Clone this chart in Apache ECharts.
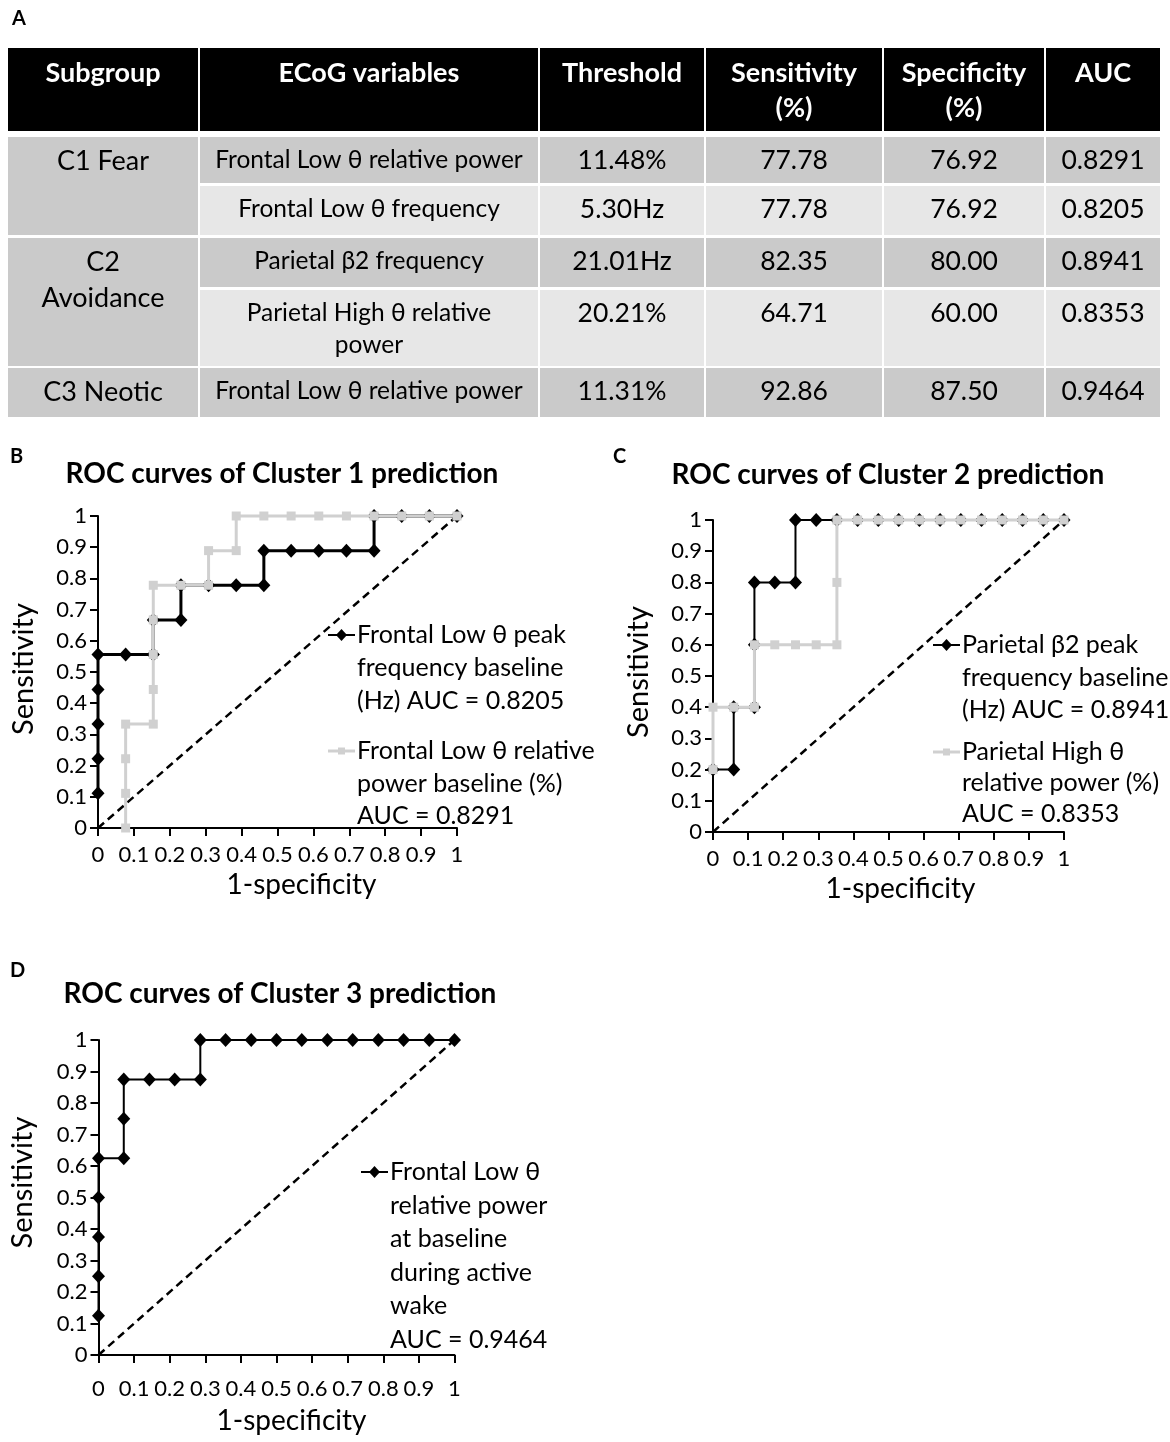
<!DOCTYPE html>
<html>
<head>
<meta charset="utf-8">
<script src="https://cdn.jsdelivr.net/npm/echarts@6/dist/echarts.min.js"></script>
<style>
  html, body { margin: 0; padding: 0; background: #fff; }
  #main { width: 1170px; height: 1442px; }
</style>
</head>
<body>
<div id="main"></div>
<script>
// table A
var tableHeader = ['Subgroup', 'ECoG variables', 'Threshold', 'Sensitivity\n(%)', 'Specificity\n(%)', 'AUC'];
var subgroups = ['C1 Fear', 'C2\nAvoidance', 'C3 Neotic'];
var subgroupSpan = [2, 2, 1];
var variables = ['Frontal Low θ relative power', 'Frontal Low θ frequency', 'Parietal β2 frequency',
                 'Parietal High θ relative\npower', 'Frontal Low θ relative power'];
var thresholds = ['11.48%', '5.30Hz', '21.01Hz', '20.21%', '11.31%'];
var sensitivity = ['77.78', '77.78', '82.35', '64.71', '92.86'];
var specificity = ['76.92', '76.92', '80.00', '60.00', '87.50'];
var aucs = ['0.8291', '0.8205', '0.8941', '0.8353', '0.9464'];

// ROC curves (x = 1-specificity, y = sensitivity)
var c1FreqX = [0, 0, 0, 0, 0, 0.077, 0.154, 0.154, 0.231, 0.231, 0.308, 0.385, 0.462, 0.462, 0.538, 0.615, 0.692, 0.769, 0.769, 0.846, 0.923, 1];
var c1FreqY = [0.111, 0.222, 0.333, 0.444, 0.556, 0.556, 0.556, 0.667, 0.667, 0.778, 0.778, 0.778, 0.778, 0.889, 0.889, 0.889, 0.889, 0.889, 1, 1, 1, 1];
var c1PowX = [0.077, 0.077, 0.077, 0.077, 0.154, 0.154, 0.154, 0.154, 0.154, 0.231, 0.308, 0.308, 0.385, 0.385, 0.462, 0.538, 0.615, 0.692, 0.769, 0.846, 0.923, 1];
var c1PowY = [0, 0.111, 0.222, 0.333, 0.333, 0.444, 0.556, 0.667, 0.778, 0.778, 0.778, 0.889, 0.889, 1, 1, 1, 1, 1, 1, 1, 1, 1];

var c2BetaX = [0, 0.059, 0.059, 0.118, 0.118, 0.118, 0.176, 0.235, 0.235, 0.294, 0.353, 0.412, 0.471, 0.529, 0.588, 0.647, 0.706, 0.765, 0.824, 0.882, 0.941, 1];
var c2BetaY = [0.2, 0.2, 0.4, 0.4, 0.6, 0.8, 0.8, 0.8, 1, 1, 1, 1, 1, 1, 1, 1, 1, 1, 1, 1, 1, 1];
var c2ThetaX = [0, 0, 0.059, 0.118, 0.118, 0.176, 0.235, 0.294, 0.353, 0.353, 0.353, 0.412, 0.471, 0.529, 0.588, 0.647, 0.706, 0.765, 0.824, 0.882, 0.941, 1];
var c2ThetaY = [0.2, 0.4, 0.4, 0.4, 0.6, 0.6, 0.6, 0.6, 0.6, 0.8, 1, 1, 1, 1, 1, 1, 1, 1, 1, 1, 1, 1];

var c3PowX = [0, 0, 0, 0, 0, 0.071, 0.071, 0.071, 0.143, 0.214, 0.286, 0.286, 0.357, 0.429, 0.5, 0.571, 0.643, 0.714, 0.786, 0.857, 0.929, 1];
var c3PowY = [0.125, 0.25, 0.375, 0.5, 0.625, 0.625, 0.75, 0.875, 0.875, 0.875, 0.875, 1, 1, 1, 1, 1, 1, 1, 1, 1, 1, 1];

var diagX = [0, 1];
var diagY = [0, 1];

var FONT = 'Lato, "Noto Sans", "DejaVu Sans", sans-serif';
var DARK = '#cacaca', LIGHT = '#e7e7e7', GREY = '#d0d0d0';

var myChart = echarts.init(document.getElementById('main'), null, {renderer: 'canvas'});

// ---- table as graphic ----
var colX = [8, 200, 540, 706, 884, 1046, 1162];
var rowTop = [137, 186, 238, 290, 368];
var rowBot = [183, 235, 287, 366, 417];
var gfx = [];

function cell(x0, x1, y0, y1, fill) {
    gfx.push({type: 'rect', shape: {x: x0, y: y0, width: x1 - x0, height: y1 - y0}, style: {fill: fill}, silent: true});
}
function txt(x, y, s, size, opt) {
    opt = opt || {};
    gfx.push({type: 'text', x: x, y: y, silent: true, style: {
        text: s, fill: opt.fill || '#000', fontSize: size, fontFamily: FONT,
        fontWeight: opt.bold ? 'bold' : 'normal', align: opt.align || 'center',
        verticalAlign: 'top', lineHeight: opt.lh || 32
    }});
}

// header
for (var c = 0; c < 6; c++) {
    cell(colX[c], colX[c + 1] - 2, 48, 131, '#000');
    txt((colX[c] + colX[c + 1] - 2) / 2, 56, tableHeader[c], 27, {bold: true, fill: '#fff', lh: 35});
}
// subgroup column
var r = 0;
subgroups.forEach(function (s, i) {
    var r1 = r + subgroupSpan[i] - 1;
    cell(colX[0], colX[1] - 2, rowTop[r], rowBot[r1], DARK);
    txt((colX[0] + colX[1] - 2) / 2, rowTop[r] + 6, s, 27, {lh: 36});
    r = r1 + 1;
});
// body rows
var bodyCols = [variables, thresholds, sensitivity, specificity, aucs];
for (var i = 0; i < variables.length; i++) {
    var fill = (i % 2 === 0) ? DARK : LIGHT;
    for (var c = 1; c < 6; c++) {
        cell(colX[c], colX[c + 1] - 2, rowTop[i], rowBot[i], fill);
        txt((colX[c] + colX[c + 1] - 2) / 2, rowTop[i] + 7, bodyCols[c - 1][i], c === 1 ? 24.5 : 26.5, {lh: 32});
    }
}

// panel letters and titles
txt(12, 3, 'A', 20, {bold: true, align: 'left'});
txt(10, 441, 'B', 20, {bold: true, align: 'left'});
txt(613, 441, 'C', 20, {bold: true, align: 'left'});
txt(10, 955, 'D', 20, {bold: true, align: 'left'});
txt(282, 458, 'ROC curves of Cluster 1 prediction', 28, {bold: true});
txt(888, 459, 'ROC curves of Cluster 2 prediction', 28, {bold: true});
txt(280, 978, 'ROC curves of Cluster 3 prediction', 28, {bold: true});

// legends
function legendItem(x, y, kind, label, lh) {
    var black = kind === 'diamond';
    gfx.push({type: 'line', silent: true, shape: {x1: x, y1: y, x2: x + 27, y2: y},
        style: {stroke: black ? '#000' : GREY, lineWidth: black ? 2 : 3}});
    if (black) {
        gfx.push({type: 'polygon', silent: true, shape: {points: [[x + 13.5, y - 6], [x + 19, y], [x + 13.5, y + 6], [x + 8, y]]}, style: {fill: '#000'}});
    } else {
        gfx.push({type: 'rect', silent: true, shape: {x: x + 10, y: y - 3.5, width: 7, height: 7}, style: {fill: GREY}});
    }
    txt(x + 29, y - lh / 2, label, 25, {align: 'left', lh: lh});
}
legendItem(328, 635, 'diamond', 'Frontal Low θ peak\nfrequency baseline\n(Hz) AUC = 0.8205', 33);
legendItem(328, 751, 'square', 'Frontal Low θ relative\npower baseline (%)\nAUC = 0.8291', 32.5);
legendItem(933, 645, 'diamond', 'Parietal β2 peak\nfrequency baseline\n(Hz) AUC = 0.8941', 32.5);
legendItem(933, 752, 'square', 'Parietal High θ\nrelative power (%)\nAUC = 0.8353', 31);
legendItem(361, 1172, 'diamond', 'Frontal Low θ\nrelative power\nat baseline\nduring active\nwake\nAUC = 0.9464', 33.6);

// ---- axes ----
function xAx(g, margin, gap, shift) {
    return {
        type: 'value', gridIndex: g, min: 0, max: 1, interval: 0.1,
        axisLine: {lineStyle: {color: '#000', width: 2}},
        axisTick: {show: true, length: 8, lineStyle: {color: '#000', width: 2}},
        axisLabel: {color: '#000', fontSize: 22, fontFamily: FONT, margin: margin},
        splitLine: {show: false},
        name: '1-specificity', nameLocation: 'middle', nameGap: gap,
        nameTextStyle: {color: '#000', fontSize: 28, fontFamily: FONT, padding: [0, 0, 0, shift * 2]}
    };
}
function yAx(g, gap, shift) {
    return {
        type: 'value', gridIndex: g, min: 0, max: 1, interval: 0.1,
        axisLine: {lineStyle: {color: '#000', width: 2}},
        axisTick: {show: true, length: 8, lineStyle: {color: '#000', width: 2}},
        axisLabel: {color: '#000', fontSize: 22, fontFamily: FONT, margin: 11},
        splitLine: {show: false},
        name: 'Sensitivity', nameLocation: 'middle', nameGap: gap,
        nameTextStyle: {color: '#000', fontSize: 29, fontFamily: FONT, padding: [0, 0, 0, shift * 2]}
    };
}

function pairs(xs, ys) {
    return xs.map(function (x, k) { return [x, ys[k]]; });
}
function diag(g) {
    return {type: 'line', xAxisIndex: g, yAxisIndex: g, data: pairs(diagX, diagY), showSymbol: false,
        lineStyle: {color: '#000', width: 2.5, type: [8, 5]}, z: 1, clip: false, silent: true};
}
function blackCurve(g, xs, ys, w) {
    return {type: 'line', xAxisIndex: g, yAxisIndex: g, data: pairs(xs, ys),
        symbol: 'diamond', symbolSize: [13, 14], showSymbol: true,
        itemStyle: {color: '#000'}, lineStyle: {color: '#000', width: w}, z: 2, clip: false};
}
function greyCurve(g, xs, ys) {
    return {type: 'line', xAxisIndex: g, yAxisIndex: g, data: pairs(xs, ys),
        symbol: 'rect', symbolSize: 9, showSymbol: true,
        itemStyle: {color: GREY}, lineStyle: {color: GREY, width: 3}, z: 3, clip: false};
}

var option = {
    animation: false,
    backgroundColor: '#fff',
    textStyle: {fontFamily: FONT},
    grid: [
        {left: 98, top: 516, width: 359, height: 312},
        {left: 713, top: 520, width: 351, height: 312},
        {left: 98.5, top: 1040, width: 356, height: 315}
    ],
    xAxis: [xAx(0, 16, 43, 24), xAx(1, 16, 43, 12), xAx(2, 23, 52, 15)],
    yAxis: [yAx(0, 60, 3), yAx(1, 60, 4), yAx(2, 61, 15)],
    series: [
        diag(0), blackCurve(0, c1FreqX, c1FreqY, 3), greyCurve(0, c1PowX, c1PowY),
        diag(1), blackCurve(1, c2BetaX, c2BetaY, 2), greyCurve(1, c2ThetaX, c2ThetaY),
        diag(2), blackCurve(2, c3PowX, c3PowY, 2)
    ],
    graphic: gfx
};

myChart.setOption(option);
</script>
</body>
</html>
